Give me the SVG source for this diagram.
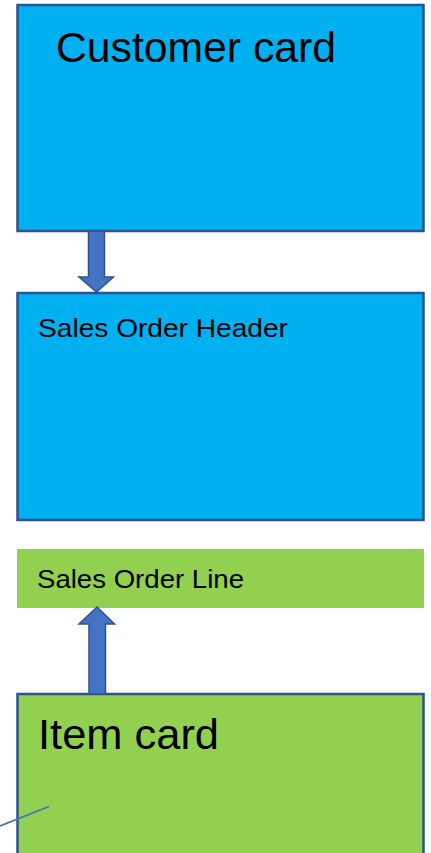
<svg xmlns="http://www.w3.org/2000/svg" width="431" height="853" viewBox="0 0 431 853">
  <style>
    .blue { fill: #00B0F0; stroke: #2F528F; stroke-width: 2.5; }
    .green { fill: #92D050; }
    .green-edged { fill: #92D050; stroke: #2F528F; stroke-width: 2.5; }
    .arrow { fill: #4472C4; stroke: #2F528F; stroke-width: 1.5; stroke-linejoin: miter; }
    .label { font-family: "Liberation Sans", Arial, sans-serif; fill: #000000; }
    .big { font-size: 43px; }
    .small { font-size: 26px; }
    .link { stroke: #4472C4; stroke-width: 1.8; fill: none; }
  </style>

  <rect width="431" height="853" fill="#FFFFFF"/>

  <g id="customer-card">
    <rect class="blue" x="17.5" y="5" width="406" height="226"/>
    <text class="label big" x="56" y="62" textLength="280" lengthAdjust="spacingAndGlyphs">Customer card</text>
  </g>

  <g id="sales-order-header">
    <rect class="blue" x="17.5" y="293" width="406" height="227"/>
    <text class="label small" x="38" y="337" textLength="250" lengthAdjust="spacingAndGlyphs">Sales Order Header</text>
  </g>

  <g id="sales-order-line">
    <rect class="green" x="17" y="549" width="407" height="59"/>
    <text class="label small" x="37" y="588" textLength="207" lengthAdjust="spacingAndGlyphs">Sales Order Line</text>
  </g>

  <g id="item-card">
    <rect class="green-edged" x="17.5" y="694" width="406" height="180"/>
    <text class="label big" x="38" y="749" textLength="181" lengthAdjust="spacingAndGlyphs">Item card</text>
  </g>

  <g id="connectors">
    <!-- block arrow: customer card down to header -->
    <path class="arrow" d="M88.5,231 L104.5,231 L104.5,277 L113.5,277 L96.5,292 L79,277 L88.5,277 Z"/>
    <!-- block arrow: item card up to order line -->
    <path class="arrow" d="M89,694 L105.5,694 L105.5,624 L114.5,624 L97,607 L79,624 L89,624 Z"/>
    <!-- thin link entering item card from the left edge -->
    <line class="link" x1="0" y1="826" x2="49" y2="806.5"/>
  </g>
</svg>
